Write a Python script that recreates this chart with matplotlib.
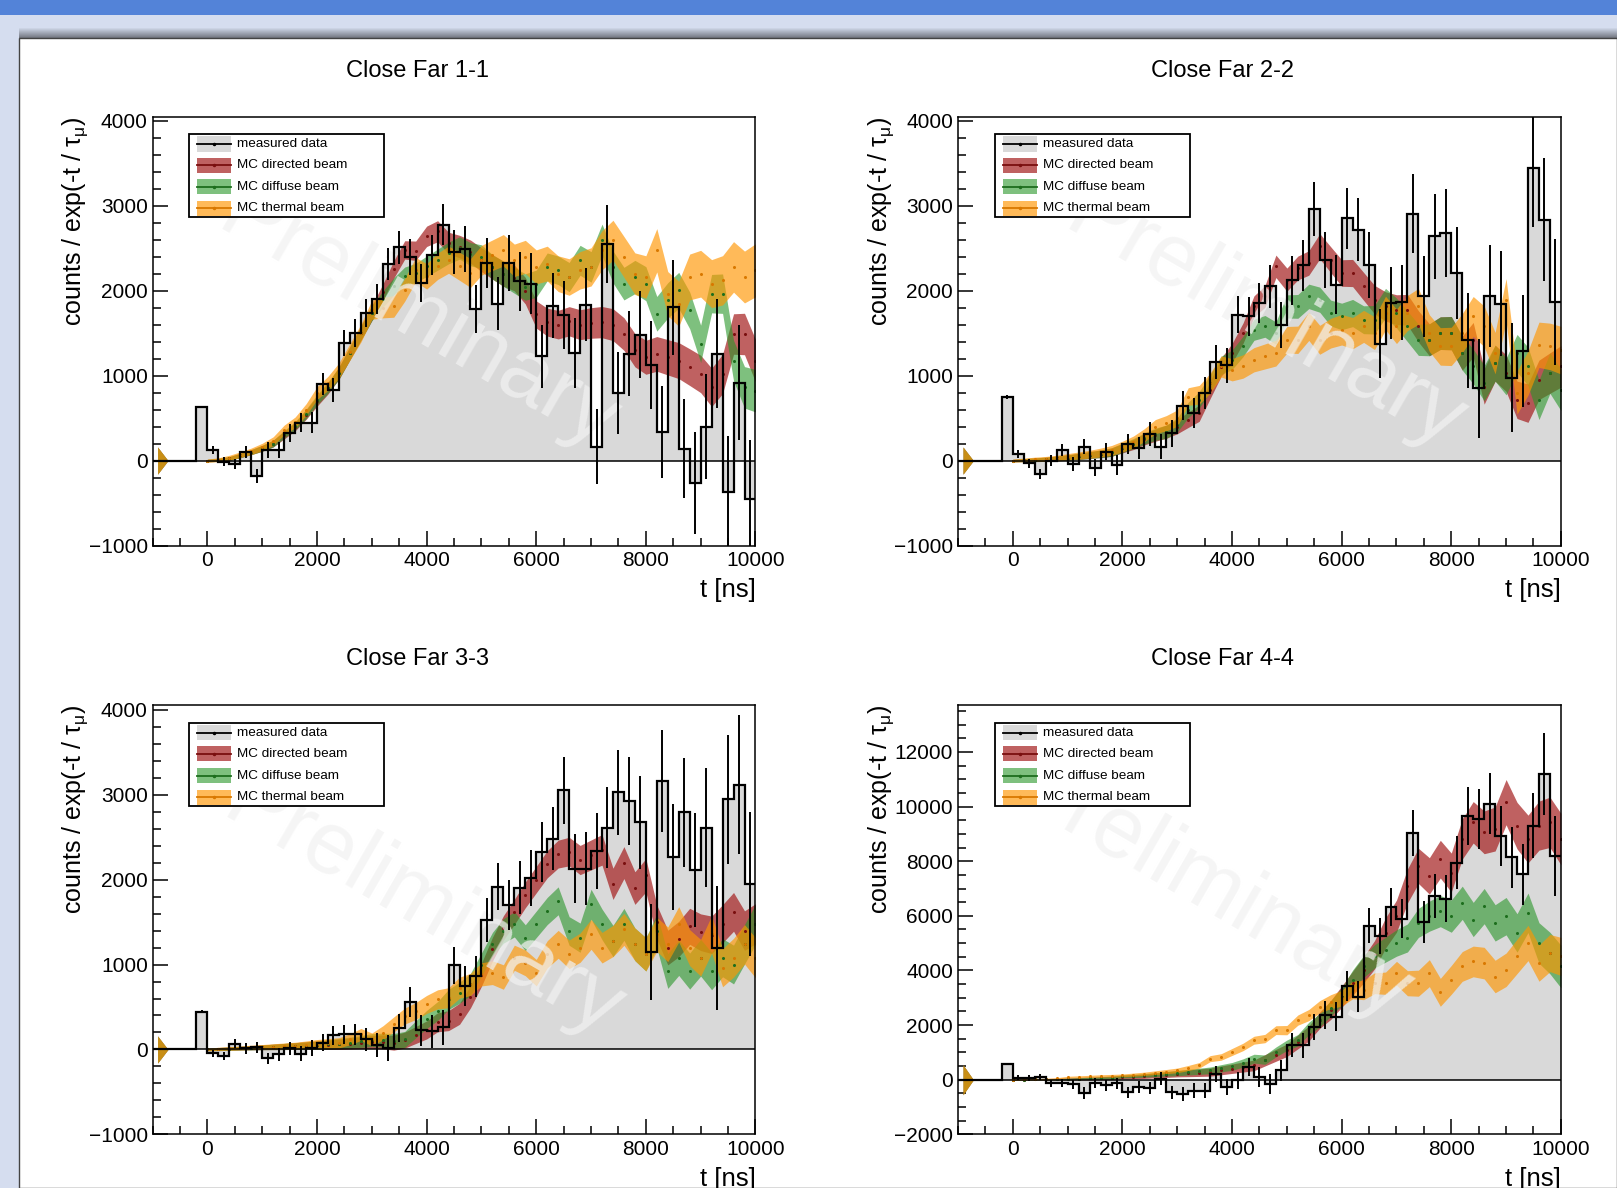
import numpy as np
import matplotlib.pyplot as plt
from matplotlib.patches import Rectangle
from matplotlib.ticker import MultipleLocator

plt.rcParams['font.family'] = ['Liberation Sans', 'DejaVu Sans']
plt.rcParams['mathtext.fontset'] = 'custom'
plt.rcParams['mathtext.rm'] = 'Liberation Sans'
plt.rcParams['mathtext.it'] = 'Liberation Sans:italic'

# 200 ns bins from -1000 to 10000, data starts in the [-200, 0] bin
bin_edges = np.arange(-1000, 10001, 200)
# MC band sample points
band_t = np.arange(0, 10001, 200)

titles = ['Close Far 1-1', 'Close Far 2-2', 'Close Far 3-3', 'Close Far 4-4']
legend_labels = ['measured data', 'MC directed beam', 'MC diffuse beam', 'MC thermal beam']

# ---- Close Far 1-1 ----
counts_1 = [629, 126, -12, -40, 106, -180, 126, 126, 322, 448, 448, 900, 833, 1383, 1501, 1737,
            1906, 2314, 2511, 2393, 2090, 2424, 2778, 2452, 2495, 1784, 2326, 1847, 2326, 2110,
            2082, 1226, 1823, 1717, 1265, 1835, 165, 2554, 794, 1257, 1481, 1128, 334, 1807, 141,
            -267, 401, 1257, -365, 919, -456]
errors_1 = [15, 50, 55, 60, 70, 80, 90, 95, 105, 110, 120, 130, 140, 150, 160, 165, 175, 185, 195,
            210, 220, 235, 245, 260, 270, 285, 300, 315, 330, 345, 360, 370, 385, 400, 415, 430,
            440, 460, 480, 500, 510, 520, 540, 560, 580, 600, 620, 640, 660, 680, 700]
directed_1 = [0, 8, 25, 60, 100, 145, 200, 300, 400, 540, 700, 850, 1030, 1265, 1500, 1737, 1980,
              2250, 2480, 2470, 2640, 2700, 2560, 2520, 2460, 2365, 2280, 2200, 2150, 2000, 1720,
              1630, 1600, 1640, 1600, 1620, 1630, 1600, 1490, 1300, 1216, 1256, 1216, 1177, 1100,
              1020, 862, 1020, 1490, 1490, 1177]
diffuse_1 = [0, 8, 25, 60, 100, 145, 200, 310, 410, 550, 715, 860, 1030, 1265, 1500, 1737, 1900,
             2050, 2170, 2208, 2287, 2365, 2444, 2503, 2430, 2400, 2280, 2200, 2122, 2043, 2083,
             2280, 2240, 2160, 2358, 2280, 2600, 2280, 2083, 2161, 2083, 1728, 1886, 2004, 1768,
             1374, 1965, 1965, 1177, 862, 823]
thermal_1 = [0, 10, 35, 70, 110, 160, 230, 361, 450, 600, 794, 910, 1060, 1280, 1500, 1776, 1800,
             1815, 2011, 2248, 2169, 2287, 2365, 2287, 2208, 2358, 2417, 2476, 2358, 2398, 2280,
             2319, 2200, 2161, 2240, 2280, 2476, 2594, 2398, 2200, 2161, 2476, 1965, 1846, 2161,
             2200, 2083, 2122, 2280, 2161, 2240]
width_1 = [15, 18, 22, 26, 30, 35, 40, 45, 50, 55, 60, 66, 72, 78, 84, 90, 96, 102, 108, 114, 120,
           124, 128, 132, 136, 140, 144, 148, 152, 156, 160, 164, 168, 172, 176, 180, 184, 188,
           192, 196, 200, 204, 208, 212, 216, 220, 226, 232, 238, 244, 250]

# ---- Close Far 2-2 ----
counts_2 = [747, 79, -31, -157, 0, 126, -39, 165, -83, 106, -51, 196, 153, 310, 165, 322, 648, 558,
            794, 1159, 1120, 1717, 1697, 1855, 2051, 1599, 2122, 2299, 2963, 2358, 2071, 2853,
            2719, 2306, 1375, 1855, 1862, 2908, 1933, 2640, 2680, 2208, 1415, 849, 1941, 1847,
            974, 1285, 3446, 2837, 1870]
errors_2 = [20, 50, 55, 60, 65, 75, 85, 90, 100, 105, 115, 120, 130, 140, 150, 160, 170, 180, 190,
            200, 210, 215, 225, 240, 255, 270, 285, 300, 318, 330, 345, 360, 375, 390, 405, 420,
            440, 460, 480, 500, 520, 540, 560, 580, 600, 620, 640, 660, 700, 720, 740]
directed_2 = [0, 5, 10, 15, 25, 35, 50, 65, 80, 100, 145, 190, 250, 300, 340, 400, 480, 558, 833,
              1100, 1265, 1500, 1815, 1933, 2287, 2130, 2267, 2326, 2523, 2365, 2208, 2208, 2051,
              1894, 1815, 1776, 1776, 1580, 1422, 1500, 1500, 1265, 1422, 872, 1147, 1030, 715,
              676, 950, 1030, 1108]
diffuse_2 = [0, 5, 10, 15, 25, 35, 50, 65, 80, 100, 150, 200, 260, 310, 340, 420, 597, 715, 911,
             1120, 1187, 1344, 1540, 1580, 1500, 1815, 1815, 1933, 1894, 1737, 1697, 1737, 1658,
             1658, 1855, 1737, 1580, 1422, 1422, 1500, 1500, 1265, 1108, 911, 1147, 990, 1265,
             1108, 715, 1030, 833]
thermal_2 = [0, 8, 15, 20, 30, 45, 60, 75, 95, 120, 165, 220, 300, 400, 440, 500, 754, 774, 911,
             1108, 1069, 1108, 1187, 1226, 1265, 1422, 1422, 1580, 1422, 1500, 1540, 1500, 1580,
             1500, 1737, 1580, 1737, 1815, 1500, 1344, 1344, 1500, 1697, 1580, 1265, 1894, 800,
             1030, 1363, 1344, 1300]
width_2 = [15, 18, 22, 25, 28, 32, 36, 40, 45, 50, 55, 60, 66, 72, 78, 84, 90, 96, 102, 108, 114,
           120, 124, 128, 132, 136, 140, 144, 148, 152, 156, 160, 164, 168, 172, 176, 180, 184,
           188, 192, 196, 200, 204, 208, 212, 216, 220, 226, 232, 238, 244]

# ---- Close Far 3-3 ----
counts_3 = [444, -47, -79, 67, 12, 27, -106, -59, 12, -51, 20, 79, 165, 177, 177, 118, 51, 20, 255,
            558, 224, 216, 263, 990, 747, 860, 1521, 1917, 1697, 1906, 2024, 2326, 2483, 3053,
            2130, 2130, 2338, 2613, 3026, 2927, 2672, 1147, 3155, 2267, 2790, 2114, 2613, 1198,
            2947, 3116, 1945]
errors_3 = [15, 45, 50, 55, 60, 65, 70, 75, 80, 90, 95, 100, 110, 115, 125, 135, 145, 155, 165,
            175, 185, 195, 205, 216, 230, 245, 260, 280, 295, 310, 330, 350, 370, 393, 410, 430,
            450, 475, 500, 520, 545, 570, 600, 620, 645, 670, 700, 730, 760, 820, 850]
directed_3 = [0, 5, 10, 15, 20, 25, 30, 35, 40, 45, 50, 55, 60, 70, 80, 90, 90, 80, 110, 170, 230,
              320, 340, 420, 620, 880, 1180, 1430, 1620, 1820, 2000, 2180, 2300, 2330, 2230, 2290,
              2350, 1950, 2200, 1900, 2050, 1500, 1200, 1300, 1450, 1380, 1350, 1480, 1620, 1400,
              1480]
diffuse_3 = [0, 5, 10, 15, 20, 25, 30, 35, 40, 45, 50, 60, 70, 80, 95, 110, 110, 100, 118, 236,
             354, 452, 589, 668, 766, 1000, 1238, 1395, 1473, 1316, 1473, 1630, 1750, 1395, 1316,
             1710, 1473, 1277, 1473, 1238, 1120, 1395, 923, 1080, 923, 1080, 923, 1080, 1000,
             1238, 1473]
thermal_3 = [0, 8, 12, 18, 25, 30, 35, 40, 45, 55, 67, 72, 79, 120, 177, 118, 196, 295, 393, 452,
             530, 590, 609, 727, 766, 884, 904, 853, 1080, 1020, 904, 1120, 1238, 1120, 1198,
             1355, 1198, 1277, 1414, 1238, 1120, 1355, 1238, 1473, 1198, 1080, 1355, 962, 1080,
             1238, 1080]
width_3 = [15, 18, 20, 22, 25, 28, 32, 36, 40, 45, 50, 55, 60, 65, 70, 76, 82, 88, 94, 100, 106,
           112, 118, 124, 130, 136, 140, 144, 148, 152, 156, 160, 164, 168, 172, 176, 180, 184,
           188, 192, 196, 200, 204, 208, 212, 216, 220, 224, 228, 232, 236]

# ---- Close Far 4-4 ----
counts_4 = [564, 74, 74, 98, -123, -123, -172, -491, -123, -209, -123, -454, -270, -307, 37, -454,
            -515, -393, -393, 221, -270, -25, 466, 98, -147, 344, 1264, 1264, 1939, 2368, 2307,
            3436, 3043, 5644, 5252, 6331, 5902, 9031, 5779, 6724, 6626, 7951, 9644, 9546, 10098,
            8932, 8135, 7521, 9301, 11202, 8196]
errors_4 = [40, 100, 110, 120, 130, 140, 175, 210, 190, 195, 200, 205, 210, 220, 230, 240, 250,
            260, 270, 285, 300, 315, 330, 370, 360, 380, 430, 450, 480, 510, 530, 560, 580, 640,
            660, 700, 720, 830, 760, 820, 860, 960, 1070, 1090, 1120, 1100, 1100, 1120, 1200,
            1500, 1470]
directed_4 = [0, 5, 10, 15, 20, 30, 40, 50, 60, 70, 98, 110, 130, 160, 190, 221, 240, 260, 282,
              344, 405, 466, 528, 712, 896, 1080, 1386, 1693, 2184, 2552, 3043, 3534, 4025, 4577,
              5374, 5988, 7092, 7828, 7460, 8074, 7583, 8810, 9423, 9055, 9178, 10160, 9301,
              8810, 9301, 9423, 8810]
diffuse_4 = [0, 5, 10, 15, 20, 30, 40, 50, 60, 80, 123, 140, 160, 190, 220, 245, 280, 310, 344,
             420, 491, 613, 773, 736, 1018, 1264, 1448, 1877, 2184, 2613, 3043, 3656, 4147, 4515,
             4761, 5006, 5190, 5742, 5988, 6172, 5988, 6479, 5865, 6356, 5742, 5988, 5374, 6110,
             5006, 4638, 4147]
thermal_4 = [0, 10, 20, 30, 50, 98, 110, 125, 140, 150, 160, 190, 220, 260, 300, 344, 430, 528,
             773, 834, 1018, 1202, 1448, 1509, 1816, 1816, 2184, 2368, 2675, 2859, 2982, 3288,
             3288, 3534, 3534, 3900, 3534, 3534, 3902, 3200, 3656, 4147, 4331, 4270, 3779, 4025,
             4515, 5006, 4270, 4638, 4515]
width_4 = [20, 22, 25, 28, 30, 35, 40, 45, 50, 55, 60, 65, 70, 80, 90, 100, 110, 120, 130, 140,
           150, 160, 170, 180, 190, 200, 220, 240, 260, 300, 340, 380, 420, 450, 480, 510, 540,
           560, 580, 600, 620, 640, 660, 680, 700, 720, 740, 760, 780, 800, 820]

# relative band width of directed / diffuse / thermal in each panel
width_scale = [[1.0, 1.0, 1.25], [1.0, 1.0, 1.15], [1.0, 1.0, 1.0], [1.15, 0.95, 0.85]]
# band error at the first MC point (t = -1000 ns)
start_err = [160, 160, 160, 550]

hist_fill = '#d9d9d9'
band_styles = [('#a51e1e', 0.70, '#7a0f0f'),   # directed
               ('#289628', 0.60, '#1d6e1d'),   # diffuse
               ('#ff9600', 0.65, '#d97800')]   # thermal
watermark_xy = [(0.44, 0.526), (0.51, 0.526), (0.449, 0.529), (0.42, 0.565)]


def draw_legend(ax):
    ax.add_patch(Rectangle((0.0609, 0.7664), 0.3233, 0.1921, transform=ax.transAxes,
                           facecolor='white', edgecolor='black', lw=1.3, zorder=6))
    rows = [0.936, 0.887, 0.836, 0.786]
    swatches = [(hist_fill, 1.0, 'black')] + [(c, a, d) for c, a, d in band_styles]
    for yc, label, (fc, alpha, lc) in zip(rows, legend_labels, swatches):
        ax.add_patch(Rectangle((0.0742, yc - 0.0175), 0.056, 0.035, transform=ax.transAxes,
                               facecolor=fc, alpha=alpha, lw=0, zorder=7))
        ax.plot([0.0742, 0.1302], [yc, yc], transform=ax.transAxes, color=lc, lw=1.3, zorder=8)
        ax.plot([0.1022], [yc], transform=ax.transAxes, marker='o', ms=1.5, color=lc, zorder=8)
        ax.text(0.1406, yc, label, transform=ax.transAxes, fontsize=9.7, va='center',
                ha='left', zorder=8)


def draw_panel(ax, idx, counts, errors, bands, width, ylim, ymajor, yminor):
    full_counts = np.concatenate([np.zeros(4), counts])
    ax.stairs(full_counts, bin_edges, baseline=0, fill=True, color=hist_fill, lw=0, zorder=1)
    s_err = start_err[idx]
    for vals, scale, (fc, alpha, dc) in zip(bands, width_scale[idx], band_styles):
        v = np.array(vals)
        w = np.array(width) * scale
        ax.fill_between([-910, -720], [-s_err, 0], [s_err, 0], color=fc, alpha=alpha, lw=0,
                        zorder=2)
        ax.fill_between(band_t, v - w, v + w, color=fc, alpha=alpha, lw=0, zorder=2)
        ax.plot(band_t, v, ls='none', marker='o', ms=1.2, color=dc, zorder=2.5)
    ax.axhline(0, color='black', lw=1.1, zorder=3)
    wx, wy = watermark_xy[idx]
    ax.text(wx, wy, 'Preliminary', transform=ax.transAxes, rotation=-30, fontsize=64,
            color=(0.95, 0.95, 0.95), alpha=0.72, ha='center', va='center',
            rotation_mode='anchor', zorder=3.5)
    ax.stairs(full_counts, bin_edges, baseline=None, color='black', lw=1.6, zorder=4)
    centers = bin_edges[4:-1] + 100
    ax.errorbar(centers, counts, yerr=errors, fmt='none', ecolor='black', elinewidth=1.4,
                capsize=0, zorder=4)

    ax.set_xlim(-1000, 10000)
    ax.set_ylim(*ylim)
    ax.xaxis.set_major_locator(MultipleLocator(2000))
    ax.xaxis.set_minor_locator(MultipleLocator(500))
    ax.yaxis.set_major_locator(MultipleLocator(ymajor))
    ax.yaxis.set_minor_locator(MultipleLocator(yminor))
    ax.tick_params(which='both', direction='in', top=False, right=False, width=1.1,
                   labelsize=15)
    ax.tick_params(which='major', length=11)
    ax.tick_params(which='minor', length=5.5)
    ax.tick_params(axis='x', pad=4)
    ax.tick_params(axis='y', pad=3.5)
    for sp in ax.spines.values():
        sp.set_linewidth(1.1)
    ax.text(1.0, -0.104, 't [ns]', transform=ax.transAxes, ha='right', va='center',
            fontsize=18.5)
    ax.text(-0.128, 1.0, r'counts / exp(-t / $\mathregular{τ_{μ}}$)', transform=ax.transAxes,
            rotation=90, ha='center', va='top', fontsize=18)
    draw_legend(ax)


fig = plt.figure(figsize=(16.17, 11.88), dpi=100, facecolor='#d5ddef')

# window chrome, kept behind the axes
fig.add_artist(Rectangle((0, 1 - 15 / 1188), 1, 15 / 1188, transform=fig.transFigure,
                         color='#5383d8', lw=0, zorder=-10))
for k in range(10):
    fig.add_artist(Rectangle((19 / 1617, 1 - (38 - k) / 1188), 1, 1 / 1188,
                             transform=fig.transFigure, color='black',
                             alpha=0.45 * (10 - k) / 10, lw=0, zorder=-10))
fig.add_artist(Rectangle((19 / 1617, 0), 1 - 19 / 1617, 1 - 38 / 1188, transform=fig.transFigure,
                         facecolor='white', edgecolor='#444444', lw=1, zorder=-9))

positions = [[0.0944, 0.5408, 0.3728, 0.3611], [0.5925, 0.5408, 0.3728, 0.3611],
             [0.0944, 0.0451, 0.3728, 0.3611], [0.5925, 0.0451, 0.3728, 0.3611]]
title_xy = [(0.2585, 0.940), (0.7563, 0.940), (0.2585, 0.4452), (0.7563, 0.4452)]

panels = [
    (counts_1, errors_1, [directed_1, diffuse_1, thermal_1], width_1, (-1000, 4050), 1000, 200),
    (counts_2, errors_2, [directed_2, diffuse_2, thermal_2], width_2, (-1000, 4050), 1000, 200),
    (counts_3, errors_3, [directed_3, diffuse_3, thermal_3], width_3, (-1000, 4050), 1000, 200),
    (counts_4, errors_4, [directed_4, diffuse_4, thermal_4], width_4, (-2000, 13700), 2000, 500),
]

for i, (pos, (cnt, err, bands, wid, ylim, ymaj, ymin)) in enumerate(zip(positions, panels)):
    ax = fig.add_axes(pos)
    ax.set_facecolor('white')
    draw_panel(ax, i, cnt, err, bands, wid, ylim, ymaj, ymin)
    fig.text(title_xy[i][0], title_xy[i][1], titles[i], ha='center', va='center', fontsize=17)

fig.savefig('out.png', dpi=100, facecolor=fig.get_facecolor())
